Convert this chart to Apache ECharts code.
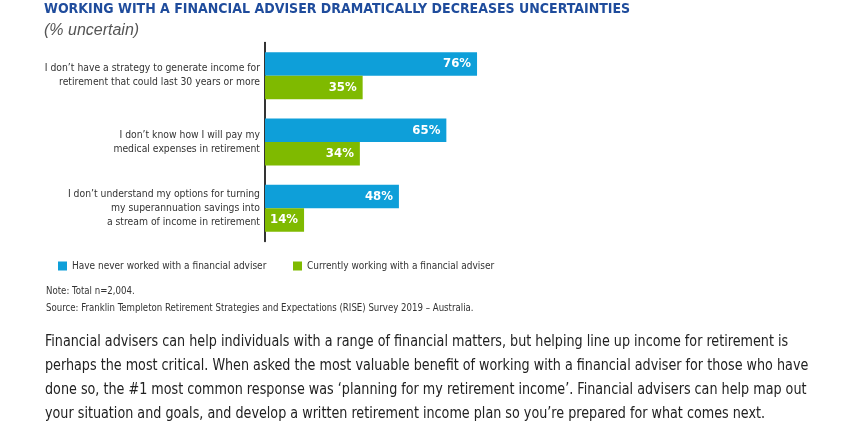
<!DOCTYPE html>
<html>
<head>
<meta charset="utf-8">
<script src="https://cdn.jsdelivr.net/npm/echarts@6/dist/echarts.min.js"></script>
<style>
html,body{margin:0;padding:0;background:#fff;}
#c{width:868px;height:428px;}
</style>
</head>
<body>
<div id="c"></div>
<script>
var categories = [
  "I don\u2019t have a strategy to generate income for\nretirement that could last 30 years or more",
  "I don\u2019t know how I will pay my\nmedical expenses in retirement",
  "I don\u2019t understand my options for turning\nmy superannuation savings into\na stream of income in retirement"
];
var seriesNames = ["Have never worked with a financial adviser", "Currently working with a financial adviser"];
var neverWorked = [76, 65, 48];
var currentlyWorking = [35, 34, 14];
var titleText = "WORKING WITH A FINANCIAL ADVISER DRAMATICALLY DECREASES UNCERTAINTIES";
var subtitleText = "(% uncertain)";
var noteLines = [
  "Note: Total n=2,004.",
  "Source: Franklin Templeton Retirement Strategies and Expectations (RISE) Survey 2019 \u2013 Australia."
];
var paragraphLines = [
  "Financial advisers can help individuals with a range of financial matters, but helping line up income for retirement is",
  "perhaps the most critical. When asked the most valuable benefit of working with a financial adviser for those who have",
  "done so, the #1 most common response was \u2018planning for my retirement income\u2019. Financial advisers can help map out",
  "your situation and goals, and develop a written retirement income plan so you\u2019re prepared for what comes next."
];

var NARROW = '"Liberation Sans Narrow", "DejaVu Sans Condensed", sans-serif';
var BLUE = '#0E9FD9';
var GREEN = '#7FBA00';

var chart = echarts.init(document.getElementById('c'), null, {renderer: 'canvas'});

var graphics = [];
noteLines.forEach(function (t, i) {
  graphics.push({type: 'text', x: 46, y: 286 + i * 17, scaleX: 0.87,
    style: {text: t, fill: '#333', font: '11px ' + NARROW}});
});
paragraphLines.forEach(function (t, i) {
  graphics.push({type: 'text', x: 45, y: 334 + i * 24, scaleX: 0.915,
    style: {text: t, fill: '#222', font: '15.5px ' + NARROW}});
});

var option = {
  animation: false,
  backgroundColor: '#fff',
  title: {
    text: titleText,
    subtext: subtitleText,
    left: 44, top: 2, itemGap: 7, padding: 0,
    textStyle: {fontFamily: NARROW, fontWeight: 'bold', fontSize: 14, color: '#1F4C9C'},
    subtextStyle: {fontFamily: '"Liberation Sans", Arial, sans-serif', fontStyle: 'italic', fontSize: 16, color: '#555'}
  },
  legend: [
    {data: [seriesNames[0]], left: 58, top: 261, itemWidth: 9, itemHeight: 9, itemGap: 5, padding: 0,
     icon: 'rect', textStyle: {fontFamily: NARROW, fontSize: 10, color: '#333'}},
    {data: [seriesNames[1]], left: 293, top: 261, itemWidth: 9, itemHeight: 9, itemGap: 5, padding: 0,
     icon: 'rect', textStyle: {fontFamily: NARROW, fontSize: 10, color: '#333'}}
  ],
  grid: {left: 265, top: 42.5, width: 279, height: 199, containLabel: false},
  xAxis: {type: 'value', min: 0, max: 100, show: false},
  yAxis: {
    type: 'category', inverse: true, data: categories,
    axisLine: {show: true, lineStyle: {color: '#000', width: 1.6}},
    axisTick: {show: false},
    axisLabel: {margin: 5, fontFamily: NARROW, fontSize: 10.3, color: '#333', lineHeight: 14, align: 'right'}
  },
  series: [
    {name: seriesNames[0], type: 'bar', data: neverWorked, barWidth: 23.5, barGap: '0%',
     itemStyle: {color: BLUE},
     label: {show: true, position: 'insideRight', distance: 6, formatter: '{c}%', color: '#fff',
       fontFamily: NARROW, fontWeight: 'bold', fontSize: 13}},
    {name: seriesNames[1], type: 'bar', data: currentlyWorking, barWidth: 23.5, barGap: '0%',
     itemStyle: {color: GREEN},
     label: {show: true, position: 'insideRight', distance: 6, formatter: '{c}%', color: '#fff',
       fontFamily: NARROW, fontWeight: 'bold', fontSize: 13}}
  ],
  graphic: graphics
};
chart.setOption(option);
</script>
</body>
</html>
